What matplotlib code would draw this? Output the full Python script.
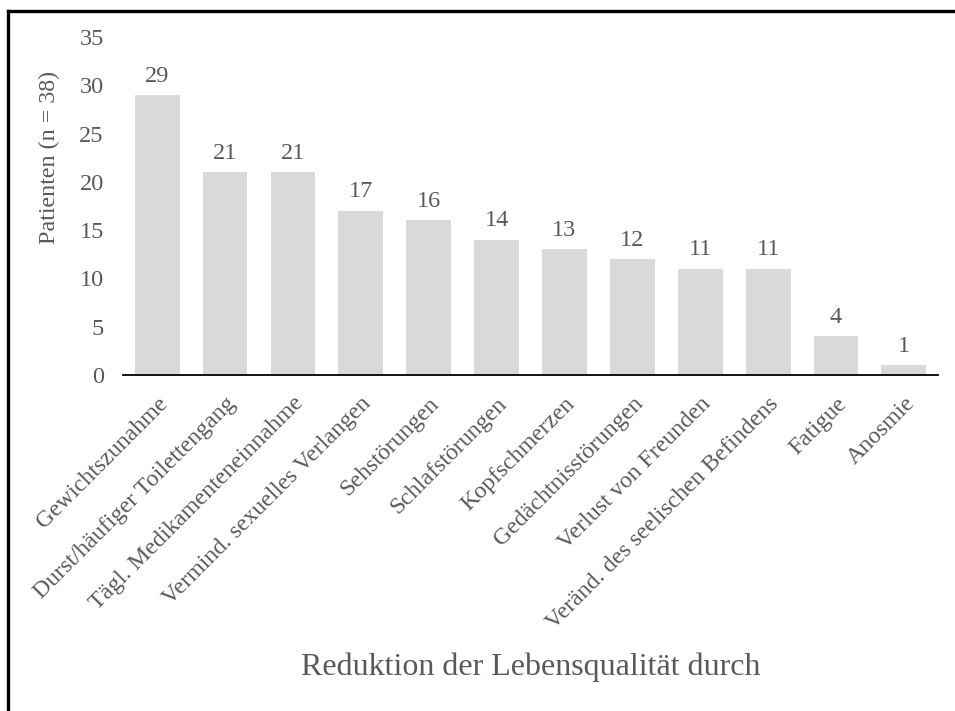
import matplotlib.pyplot as plt
from matplotlib.lines import Line2D

categories = ['Gewichtszunahme', 'Durst/häufiger Toilettengang', 'Tägl. Medikamenteneinnahme',
              'Vermind. sexuelles Verlangen', 'Sehstörungen', 'Schlafstörungen', 'Kopfschmerzen',
              'Gedächtnisstörungen', 'Verlust von Freunden', 'Veränd. des seelischen Befindens',
              'Fatigue', 'Anosmie']
patients = [29, 21, 21, 17, 16, 14, 13, 12, 11, 11, 4, 1]
yticks = [0, 5, 10, 15, 20, 25, 30, 35]

plt.rcParams['font.family'] = ['Liberation Serif', 'DejaVu Serif']
grey = '#595959'

fig = plt.figure(figsize=(9.55, 7.11), dpi=100)
ax = fig.add_axes([0.129, 0.4726, 0.853, 0.4754])

x = range(len(categories))
bars = ax.bar(x, patients, width=0.66, color='#d9d9d9')
for b, v in zip(bars, patients):
    ax.annotate(str(v), (b.get_x() + b.get_width() / 2, v), xytext=(0, 6),
                textcoords='offset points', ha='center', va='bottom', fontsize=17.5, color=grey)

ax.set_xlim(-0.5, len(categories) - 0.5)
ax.set_ylim(0, 35)
ax.set_yticks(yticks)
ax.set_xticks(list(x))
ax.set_xticklabels(categories, rotation=45, ha='right', rotation_mode='anchor', fontsize=17.2, color=grey)
ax.tick_params(axis='both', length=0, labelcolor=grey)
ax.tick_params(axis='y', pad=14, labelsize=17.5)
ax.tick_params(axis='x', pad=13)
for s in ['top', 'right', 'left']:
    ax.spines[s].set_visible(False)
ax.spines['bottom'].set_linewidth(1.3)
ax.spines['bottom'].set_color('black')

fig.text(0.052, 0.778, 'Patienten (n = 38)', rotation=90, ha='center', va='center', fontsize=17.3, color=grey)
fig.text(0.556, 0.0506, 'Reduktion der Lebensqualität durch', ha='center', va='baseline', fontsize=23, color=grey)

# frame lines (top and left only)
fig.add_artist(Line2D([0.0084, 1.0], [0.9845, 0.9845], color='black', lw=2.4, transform=fig.transFigure))
fig.add_artist(Line2D([0.0084, 0.0084], [0.0, 0.9845], color='black', lw=2.4, transform=fig.transFigure))

fig.savefig('out.png', dpi=100)
